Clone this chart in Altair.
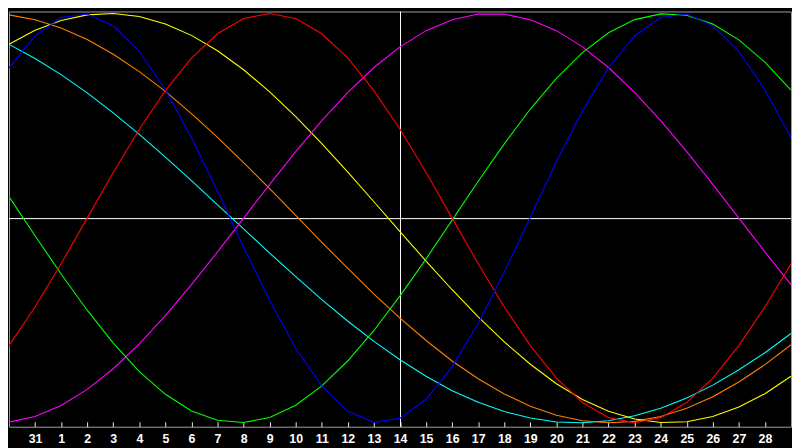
import altair as alt
import pandas as pd

# day index -1 .. 29 (index 0 is labelled "31", index 14 is "today")
day_index = list(range(-1, 30))
tick_labels = ["31"] + [str(d) for d in range(1, 29)]
today_index = 14

physical = [0.734, 0.890, 0.980, 0.997, 0.940, 0.814, 0.627, 0.393, 0.131, -0.142,
            -0.403, -0.636, -0.820, -0.944, -0.998, -0.978, -0.885, -0.727, -0.515, -0.265,
            0.005, 0.275, 0.524, 0.735, 0.890, 0.980, 0.997, 0.940, 0.814, 0.627, 0.393]
emotional = [-0.623, -0.434, -0.223, 0.0, 0.223, 0.434, 0.623, 0.782, 0.901, 0.975,
             1.0, 0.975, 0.901, 0.782, 0.623, 0.434, 0.223, 0.0, -0.223, -0.434,
             -0.623, -0.782, -0.901, -0.975, -1.0, -0.975, -0.901, -0.782, -0.623, -0.434, -0.223]
intellectual = [0.105, -0.086, -0.273, -0.450, -0.611, -0.750, -0.861, -0.942, -0.988, -0.999,
                -0.974, -0.914, -0.820, -0.697, -0.549, -0.380, -0.199, -0.010, 0.180, 0.363,
                0.533, 0.683, 0.809, 0.906, 0.970, 0.998, 0.991, 0.948, 0.871, 0.762, 0.626]
intuitive = [-0.997, -0.969, -0.916, -0.837, -0.736, -0.614, -0.476, -0.325, -0.165, 0.0,
             0.165, 0.325, 0.476, 0.614, 0.736, 0.837, 0.916, 0.969, 0.997, 0.997,
             0.969, 0.916, 0.837, 0.736, 0.614, 0.476, 0.325, 0.165, 0.0, -0.165, -0.325]
aesthetic = [0.850, 0.918, 0.966, 0.993, 1.000, 0.985, 0.949, 0.893, 0.818, 0.725,
             0.617, 0.496, 0.364, 0.225, 0.080, -0.066, -0.210, -0.350, -0.483, -0.605,
             -0.714, -0.809, -0.886, -0.944, -0.982, -0.999, -0.995, -0.969, -0.923, -0.858, -0.773]
awareness = [0.993, 0.969, 0.929, 0.873, 0.801, 0.716, 0.619, 0.511, 0.395, 0.271,
             0.144, 0.013, -0.118, -0.246, -0.371, -0.489, -0.598, -0.698, -0.785, -0.859,
             -0.919, -0.963, -0.990, -1.000, -0.993, -0.969, -0.929, -0.873, -0.801, -0.716, -0.619]
spiritual = [0.849, 0.780, 0.701, 0.612, 0.514, 0.409, 0.298, 0.183, 0.065, -0.053,
             -0.171, -0.286, -0.398, -0.504, -0.602, -0.692, -0.773, -0.843, -0.900, -0.945,
             -0.977, -0.996, -1.000, -0.990, -0.966, -0.929, -0.879, -0.816, -0.741, -0.658, -0.564]

series_names = ["spiritual", "awareness", "aesthetic", "intuitive", "intellectual", "emotional", "physical"]
series_values = [spiritual, awareness, aesthetic, intuitive, intellectual, emotional, physical]
series_colors = ["#00ffff", "#ff8000", "#ffff00", "#ff00ff", "#00ff00", "#ff0000", "#0000ff"]

rows = []
for name, vals in zip(series_names, series_values):
    for i, v in zip(day_index, vals):
        rows.append({"i": i, "v": v, "cycle": name})
df = pd.DataFrame(rows)

label_js = "[" + ",".join("'" + t + "'" for t in tick_labels) + "]"

xscale = alt.Scale(domain=[-1, 29], nice=False, zero=False)
yscale = alt.Scale(domain=[-1.0193, 1.0097], nice=False, zero=False)

x_axis = alt.Axis(
    values=list(range(0, 29)),
    labelExpr=label_js + "[datum.value]",
    domain=False, grid=False, ticks=True, tickColor="#e8e8e8", tickSize=5,
    offset=-5, labelColor="#ffffff", labelFont="Liberation Sans",
    labelFontWeight="bold", labelFontSize=12.5, labelPadding=6,
    labelOverlap=False, labelFlush=False, title=None,
)

lines = alt.Chart(df).mark_line(strokeWidth=1.1, interpolate="linear", clip=True).encode(
    x=alt.X("i:Q", scale=xscale, axis=x_axis),
    y=alt.Y("v:Q", scale=yscale, axis=None),
    color=alt.Color("cycle:N", scale=alt.Scale(domain=series_names, range=series_colors), legend=None),
    order=alt.Order("i:Q"),
    detail="cycle:N",
)

zero_df = pd.DataFrame({"v": [0.0]})
today_df = pd.DataFrame({"i": [today_index]})

zero_line = alt.Chart(zero_df).mark_rule(color="#ffffff", strokeWidth=1, yOffset=0.5).encode(
    y=alt.Y("v:Q", scale=yscale, axis=None)
)
today_line = alt.Chart(today_df).mark_rule(color="#ffffff", strokeWidth=1, xOffset=0.5).encode(
    x=alt.X("i:Q", scale=xscale, axis=x_axis)
)

chart = alt.layer(zero_line, today_line, lines).properties(
    width=791, height=420, background="#000000",
    padding={"left": 0, "top": 0, "right": 0, "bottom": 0},
).configure_view(stroke="#a0a0a0", strokeWidth=1, fill="#000000")

chart.save("out.html", embed_options={"renderer": "svg", "actions": False})
